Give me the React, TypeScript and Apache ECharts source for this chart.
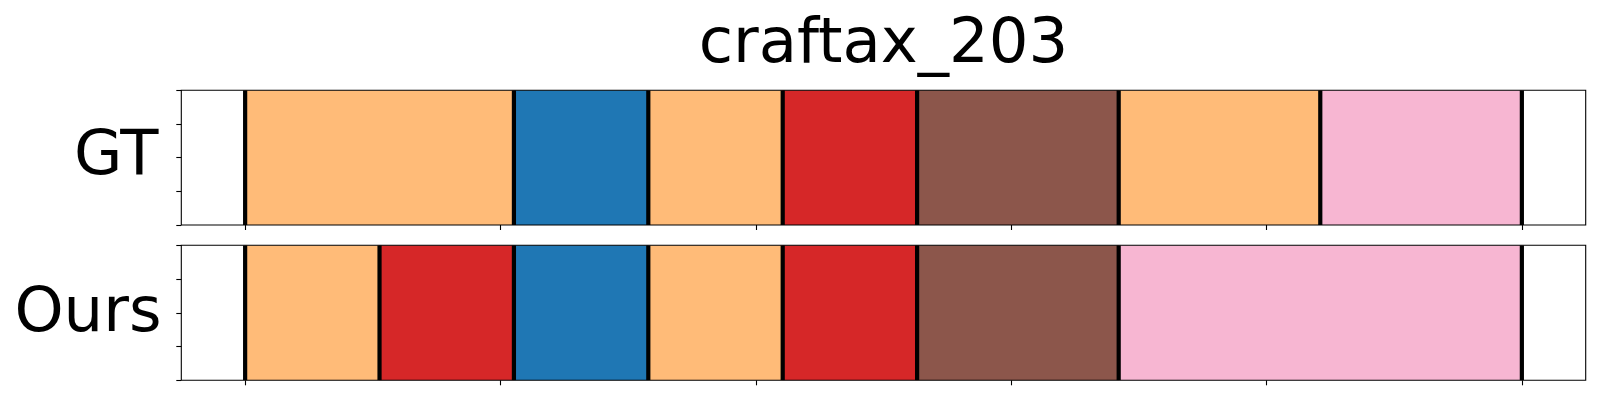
import React, { useEffect, useRef } from "react";
import * as echarts from "echarts";

const title = "craftax_203";
const rowLabels = ["GT", "Ours"];
const totalSteps = 19;
const xTickValues = [0, 3.8, 7.6, 11.4, 15.2, 19];
const yTickValues = [0, 0.25, 0.5, 0.75, 1];

const palette: Record<string, string> = {
  orange: "#ffbb78",
  blue: "#1f77b4",
  red: "#d62728",
  brown: "#8c564b",
  pink: "#f7b6d2",
};

// segments: [start, end, colorName]
const gtSegments: [number, number, string][] = [
  [0, 4, "orange"],
  [4, 6, "blue"],
  [6, 8, "orange"],
  [8, 10, "red"],
  [10, 13, "brown"],
  [13, 16, "orange"],
  [16, 19, "pink"],
];
const oursSegments: [number, number, string][] = [
  [0, 2, "orange"],
  [2, 4, "red"],
  [4, 6, "blue"],
  [6, 8, "orange"],
  [8, 10, "red"],
  [10, 13, "brown"],
  [13, 19, "pink"],
];

function boundaries(segs: [number, number, string][]): number[] {
  const b = new Set<number>();
  segs.forEach((s) => {
    b.add(s[0]);
    b.add(s[1]);
  });
  return Array.from(b);
}

export default function App() {
  const ref = useRef<HTMLDivElement>(null);
  useEffect(() => {
    if (!ref.current) return;
    const chart = echarts.init(ref.current, undefined, { renderer: "svg" });
    const left = 181.3;
    const width = 1404.4;
    const grids = [
      { left, top: 90.3, width, height: 134.7 },
      { left, top: 245.3, width, height: 135 },
    ];
    const pad = totalSteps * 0.05;
    const xAxes = grids.map((_, i) => ({
      type: "value",
      gridIndex: i,
      position: "bottom",
      min: -pad,
      max: totalSteps + pad,
      axisLine: { show: false, onZero: false },
      splitLine: { show: false },
      axisLabel: { show: false, customValues: xTickValues },
      axisTick: {
        show: true,
        inside: false,
        length: 5,
        lineStyle: { color: "#000", width: 1.1 },
        customValues: xTickValues,
      },
    }));
    const yAxes = grids.map((_, i) => ({
      type: "value",
      gridIndex: i,
      position: "left",
      min: 0,
      max: 1,
      axisLine: { show: false, onZero: false },
      splitLine: { show: false },
      axisLabel: { show: false, customValues: yTickValues },
      axisTick: {
        show: true,
        inside: false,
        length: 5,
        lineStyle: { color: "#000", width: 1.1 },
        customValues: yTickValues,
      },
    }));
    const segSeries = [gtSegments, oursSegments].map((segs, i) => ({
      type: "custom",
      xAxisIndex: i,
      yAxisIndex: i,
      clip: true,
      data: segs.map((s) => [s[0], s[1], s[2]]),
      renderItem: (params: any, api: any) => {
        const s = api.value(0);
        const e = api.value(1);
        const d = segs[params.dataIndex];
        const p0 = api.coord([s, 1]);
        const p1 = api.coord([e, 0]);
        return {
          type: "rect",
          shape: { x: p0[0], y: p0[1], width: p1[0] - p0[0], height: p1[1] - p0[1] },
          style: { fill: palette[d[2]], stroke: palette[d[2]], lineWidth: 0.5 },
        };
      },
      z: 2,
    }));
    const lineSeries = [gtSegments, oursSegments].map((segs, i) => ({
      type: "custom",
      xAxisIndex: i,
      yAxisIndex: i,
      clip: true,
      data: boundaries(segs).map((b) => [b]),
      renderItem: (params: any, api: any) => {
        const b = api.value(0);
        const p0 = api.coord([b, 1]);
        const p1 = api.coord([b, 0]);
        return {
          type: "line",
          shape: { x1: p0[0], y1: p0[1], x2: p1[0], y2: p1[1] },
          style: { stroke: "#000", lineWidth: 4.2 },
        };
      },
      z: 3,
    }));
    chart.setOption({
      animation: false,
      backgroundColor: "#fff",
      grid: grids.map((g) => ({
        ...g,
        show: true,
        borderColor: "#000",
        borderWidth: 1.1,
        backgroundColor: "transparent",
        z: 10,
      })),
      xAxis: xAxes,
      yAxis: yAxes,
      series: [...segSeries, ...lineSeries],
      graphic: [
        {
          type: "text",
          x: 883.5,
          y: 40,
          style: {
            text: title,
            font: "62.5px 'DejaVu Sans'",
            fill: "#000",
            textAlign: "center",
            textVerticalAlign: "middle",
          },
        },
        {
          type: "text",
          x: 158.5,
          y: 152.5,
          style: {
            text: rowLabels[0],
            font: "62.5px 'DejaVu Sans'",
            fill: "#000",
            textAlign: "right",
            textVerticalAlign: "middle",
          },
        },
        {
          type: "text",
          x: 161.5,
          y: 309,
          style: {
            text: rowLabels[1],
            font: "62.5px 'DejaVu Sans'",
            fill: "#000",
            textAlign: "right",
            textVerticalAlign: "middle",
          },
        },
      ],
    });
    return () => chart.dispose();
  }, []);
  return (
    <div
      ref={ref}
      style={{ position: "fixed", left: 0, top: 0, width: 1600, height: 400, background: "#fff" }}
    />
  );
}
